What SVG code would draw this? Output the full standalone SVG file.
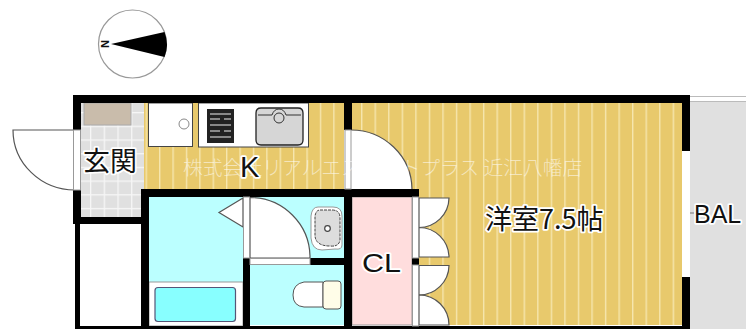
<svg xmlns="http://www.w3.org/2000/svg" width="746" height="329" viewBox="0 0 746 329">
<style>
.wall{fill:#000}
.slit{fill:#fff;stroke:#999;stroke-width:1}
.door{fill:#fff;stroke:#555;stroke-width:1.2}
.label{font-family:"Noto Sans CJK JP","Noto Sans",sans-serif;fill:#111;stroke:#fff;stroke-width:3.5;paint-order:stroke;stroke-linejoin:round}
.latin{font-family:"Liberation Sans",Arial,sans-serif;fill:#111;stroke:#fff;stroke-width:3.5;paint-order:stroke;stroke-linejoin:round}
.wm{font-family:"Noto Sans CJK JP",sans-serif;font-size:19.8px;font-weight:300;fill:#fff;fill-opacity:.55}
</style>
<defs>
<pattern id="stripeK" patternUnits="userSpaceOnUse" x="159" y="0" width="13.4" height="10"><rect width="13.4" height="10" fill="#e8c96c"/><rect width="1.4" height="10" fill="#f6e6ae"/></pattern>
<pattern id="stripeR" patternUnits="userSpaceOnUse" x="361" y="0" width="13.55" height="10"><rect width="13.55" height="10" fill="#e8c96c"/><rect width="1.4" height="10" fill="#f6e6ae"/></pattern>
<pattern id="tile" patternUnits="userSpaceOnUse" x="90" y="112" width="13.7" height="13.7"><rect width="13.7" height="13.7" fill="#e0e0e0"/><rect width="1.3" height="13.7" fill="#f6f6f6"/><rect width="13.7" height="1.3" fill="#f6f6f6"/></pattern>
</defs>
<rect width="746" height="329" fill="#fff"/>

<g id="compass">
<circle cx="132.500" cy="44" r="34" fill="#fff" stroke="#999" stroke-width="1.2"/>
<path d="M111,44 L164.500,32 A34,34 0 0 1 164.500,57 Z" fill="#000"/>
<text x="105" y="44" transform="rotate(90 105 44)" text-anchor="middle" dominant-baseline="central" font-family="Liberation Sans,sans-serif" font-size="11" font-weight="bold" fill="#111">N</text>
</g>

<g id="balcony">
<rect x="690" y="102" width="56" height="227" fill="#e0e0e0"/>
<path d="M690,96.500H746M690,101.500H746" stroke="#bbb" stroke-width="1" fill="none"/>
<path d="M680,213H694" stroke="#777" stroke-width="1"/>
<text class="latin" x="694" y="223" font-size="25">BAL</text>
</g>

<g id="entrance-door">
<path class="door" d="M13,130 H75 V190 A62,60 0 0 1 13,130 Z"/>
</g>

<g id="genkan">
<rect x="81" y="103" width="64" height="114" fill="url(#tile)"/>
<rect x="84" y="103" width="47" height="22" fill="#c9bcab" stroke="#aaa" stroke-width="1"/>
<text class="label" x="83" y="171" font-size="27">玄関</text>
</g>

<g id="kitchen">
<rect x="144" y="103" width="200" height="86" fill="url(#stripeK)"/>
<rect x="148.500" y="103" width="44" height="43.500" fill="#fff" stroke="#444" stroke-width="1"/>
<circle cx="184" cy="124" r="5" fill="#fff" stroke="#888" stroke-width="1"/>
<rect x="198.500" y="103" width="110" height="44" fill="#fff" stroke="#444" stroke-width="1"/>
<rect x="207" y="109" width="27" height="34" fill="#222"/>
<path d="M210,114H231M210,119H220M224,119H231M210,125H231M210,131H220M224,131H231M210,137H231" stroke="#aaa" stroke-width="1.500" fill="none"/>
<path d="M256,113 Q256,108 261,108 H298 Q303,108 303,113 V140 Q303,145 298,145 H261 Q256,145 256,140 Z" fill="#d6d6d6" stroke="#222" stroke-width="1.300"/>
<path d="M258,115 H272 Q274,109 279,109 Q284,109 286,115 H301" fill="none" stroke="#333" stroke-width="1"/>
<circle cx="279" cy="118" r="5" fill="#d6d6d6" stroke="#333" stroke-width="1"/>
</g>

<g id="western-room">
<rect x="352" y="103" width="330" height="222" fill="url(#stripeR)"/>
<path class="door" d="M350,130 A61,60 0 0 1 412,189.500 H350 Z"/>
<path class="door" d="M419,198 H449 A30,30 0 0 1 419,227.500 Z"/>
<path class="door" d="M419,227.500 A30,30 0 0 1 449,257 H419 Z"/>
<path class="door" d="M419,265.500 H449 A30,30 0 0 1 419,295 Z"/>
<path class="door" d="M419,295 A30,30 0 0 1 449,325 H419 Z"/>
<text class="label" x="485" y="229" font-size="27">洋室7.5帖</text>
</g>

<g id="bath">
<rect x="149" y="197" width="94" height="85" fill="#bbffff"/>
<rect x="149" y="282" width="94" height="44" fill="#fff" stroke="#999" stroke-width="1"/>
<rect x="155" y="287.500" width="80.500" height="34" rx="3" fill="#88ffff" stroke="#557" stroke-width="1.200"/>
<path d="M243,198 L219,212.500 L243,227 Z" fill="#fff" stroke="#555" stroke-width="1.200"/>
</g>

<g id="washroom">
<rect x="250" y="197" width="94" height="61" fill="#bbffff"/>
<path class="door" d="M250,197.500 A60,60 0 0 1 310,258 H250 Z"/>
<path d="M318,207 H333 Q342,207 342,216 V245 Q342,250 335,249 L322,250 Q312,250 311,238 V216 Q312,207 318,207 Z" fill="#fff" stroke="#999" stroke-width="1"/>
<path d="M320,210 H332 Q340,210 340,218 V240 Q339,247 330,246 Q316,246 315,236 V216 Q316,210 320,210 Z" fill="#ddd" stroke="#444" stroke-width="1" stroke-dasharray="3 1"/>
<circle cx="327.500" cy="228.500" r="2.800" fill="#fff" stroke="#444" stroke-width="1.200"/>
</g>

<g id="toilet">
<rect x="250" y="265" width="94" height="60" fill="#bbffff"/>
<path d="M323,282 H304 Q293,284 293,295 Q293,306 304,307 H323 Z" fill="#fff" stroke="#555" stroke-width="1"/>
<rect x="323" y="281" width="18" height="28" rx="3" fill="#fffde8" stroke="#555" stroke-width="1"/>
</g>

<g id="closet">
<rect x="352" y="197" width="60" height="128" fill="#ffdddd" stroke="#999" stroke-width="1"/>
<text class="latin" x="362" y="272" font-size="26" textLength="39" lengthAdjust="spacingAndGlyphs">CL</text>
</g>

<g id="storage">
<rect x="80" y="224" width="61" height="103" fill="#fff"/>
</g>

<g id="walls">
<rect class="wall" x="73" y="95" width="617" height="8"/>
<rect class="wall" x="73" y="95" width="8" height="35"/>
<rect class="wall" x="73" y="190" width="8" height="34"/>
<rect class="wall" x="73" y="217" width="76" height="7"/>
<rect class="wall" x="75" y="224" width="5" height="105"/>
<rect class="wall" x="141" y="189" width="8" height="140"/>
<rect class="wall" x="141" y="189" width="278" height="8"/>
<rect class="wall" x="344" y="103" width="8" height="27"/>
<rect class="wall" x="344" y="197" width="8" height="132"/>
<rect class="wall" x="243" y="258" width="7" height="71"/>
<rect class="wall" x="310" y="258" width="34" height="7"/>
<rect class="wall" x="412" y="258" width="7" height="7"/>
<rect class="wall" x="682" y="95" width="8" height="56"/>
<rect class="wall" x="682" y="277" width="8" height="52"/>
<rect class="wall" x="75" y="326" width="615" height="3"/>
<rect class="slit" x="73.500" y="130" width="7" height="60"/>
<rect class="slit" x="345" y="130" width="6" height="59"/>
<rect class="slit" x="243.500" y="197" width="6" height="61"/>
<rect class="slit" x="250" y="258.500" width="60" height="6"/>
<rect class="slit" x="412.500" y="197" width="6" height="61"/>
<rect class="slit" x="412.500" y="265" width="6" height="61"/>
<rect x="682" y="151" width="8" height="126" fill="#fff"/>
</g>

<g id="watermark">
<text class="wm" x="183" y="175">株式会社リアルエステートプラス 近江八幡店</text>
</g>
<text id="kitchen-label" class="latin" x="240" y="177" font-size="29">K</text>
</svg>
